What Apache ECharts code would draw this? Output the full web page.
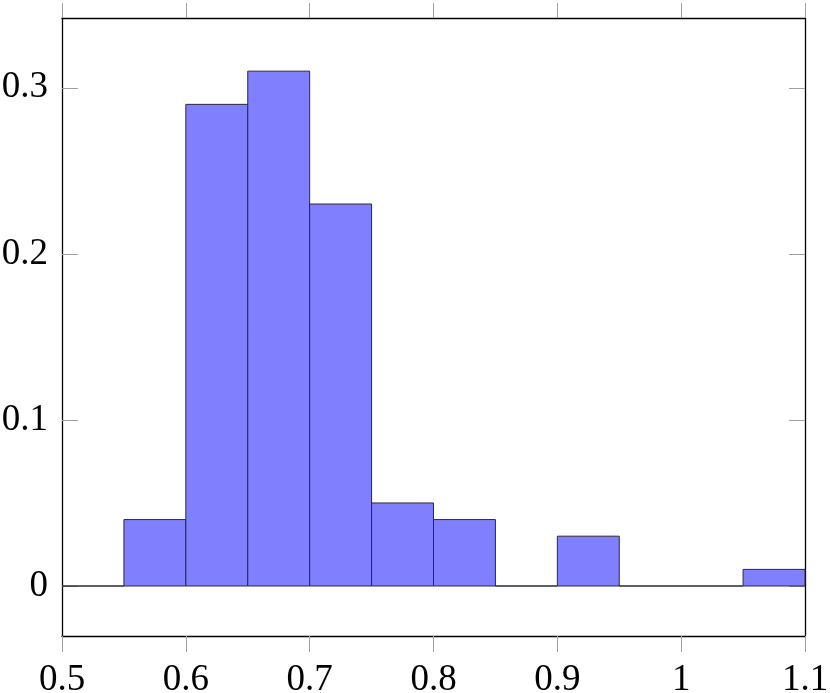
<!DOCTYPE html>
<html>
<head>
<meta charset="utf-8">
<script src="https://cdn.jsdelivr.net/npm/echarts@6/dist/echarts.min.js"></script>
<style>html,body{margin:0;padding:0;background:#fff;}#c{width:830px;height:693px;}</style>
</head>
<body>
<div id="c"></div>
<script>
const binStart = [0.50, 0.55, 0.60, 0.65, 0.70, 0.75, 0.80, 0.85, 0.90, 0.95, 1.00, 1.05];
const binEnd   = [0.55, 0.60, 0.65, 0.70, 0.75, 0.80, 0.85, 0.90, 0.95, 1.00, 1.05, 1.10];
const freq     = [0.00, 0.04, 0.29, 0.31, 0.23, 0.05, 0.04, 0.00, 0.03, 0.00, 0.00, 0.01];
const xTicks = [0.5, 0.6, 0.7, 0.8, 0.9, 1.0, 1.1];
const yTicks = [0, 0.1, 0.2, 0.3];

const FONT = '"Liberation Serif", "DejaVu Serif", serif';
const fmt = v => String(parseFloat(Number(v).toFixed(2)));
const data = binStart.map((s, i) => [s, binEnd[i], freq[i]]);

const chart = echarts.init(document.getElementById('c'), null, {renderer: 'canvas'});
const labelStyle = {fontFamily: FONT, fontSize: 37, color: '#000'};
const tickGray = {color: '#a0a0a0', width: 1};

chart.setOption({
  animation: false,
  backgroundColor: '#fff',
  grid: {left: 62, right: 25, top: 18, bottom: 57, containLabel: false, outerBoundsMode: 'none'},
  xAxis: [
    {type: 'value', min: 0.5, max: 1.1, position: 'bottom',
     axisLine: {show: true, onZero: false, lineStyle: {color: '#000', width: 1.3}},
     axisTick: {show: true, inside: false, length: 16, lineStyle: tickGray, customValues: xTicks},
     axisLabel: Object.assign({margin: 26, formatter: fmt, customValues: xTicks}, labelStyle),
     splitLine: {show: false}},
    {type: 'value', min: 0.5, max: 1.1, position: 'top',
     axisLine: {show: true, onZero: false, lineStyle: {color: '#000', width: 1.3}},
     axisTick: {show: true, inside: false, length: 15, lineStyle: tickGray, customValues: xTicks},
     axisLabel: {show: false},
     splitLine: {show: false}}
  ],
  yAxis: [
    {type: 'value', min: -0.0301, max: 0.342, position: 'left',
     axisLine: {show: true, onZero: false, lineStyle: {color: '#000', width: 1.3}},
     axisTick: {show: true, inside: true, length: 16, lineStyle: tickGray, customValues: yTicks},
     axisLabel: Object.assign({margin: 14, formatter: fmt, customValues: yTicks}, labelStyle),
     splitLine: {show: false}},
    {type: 'value', min: -0.0301, max: 0.342, position: 'right',
     axisLine: {show: true, onZero: false, lineStyle: {color: '#000', width: 1.3}},
     axisTick: {show: true, inside: true, length: 16, lineStyle: tickGray, customValues: yTicks},
     axisLabel: {show: false},
     splitLine: {show: false}}
  ],
  series: [{
    type: 'custom',
    xAxisIndex: 0, yAxisIndex: 0,
    clip: false,
    data: data,
    encode: {x: [0, 1], y: 2},
    renderItem: function (params, api) {
      const p0 = api.coord([api.value(0), api.value(2)]);
      const p1 = api.coord([api.value(1), 0]);
      return {
        type: 'rect',
        shape: {x: p0[0], y: p0[1], width: p1[0] - p0[0], height: p1[1] - p0[1]},
        style: {fill: '#8080ff', stroke: '#2a2a3a', lineWidth: 1}
      };
    }
  }]
});
</script>
</body>
</html>
